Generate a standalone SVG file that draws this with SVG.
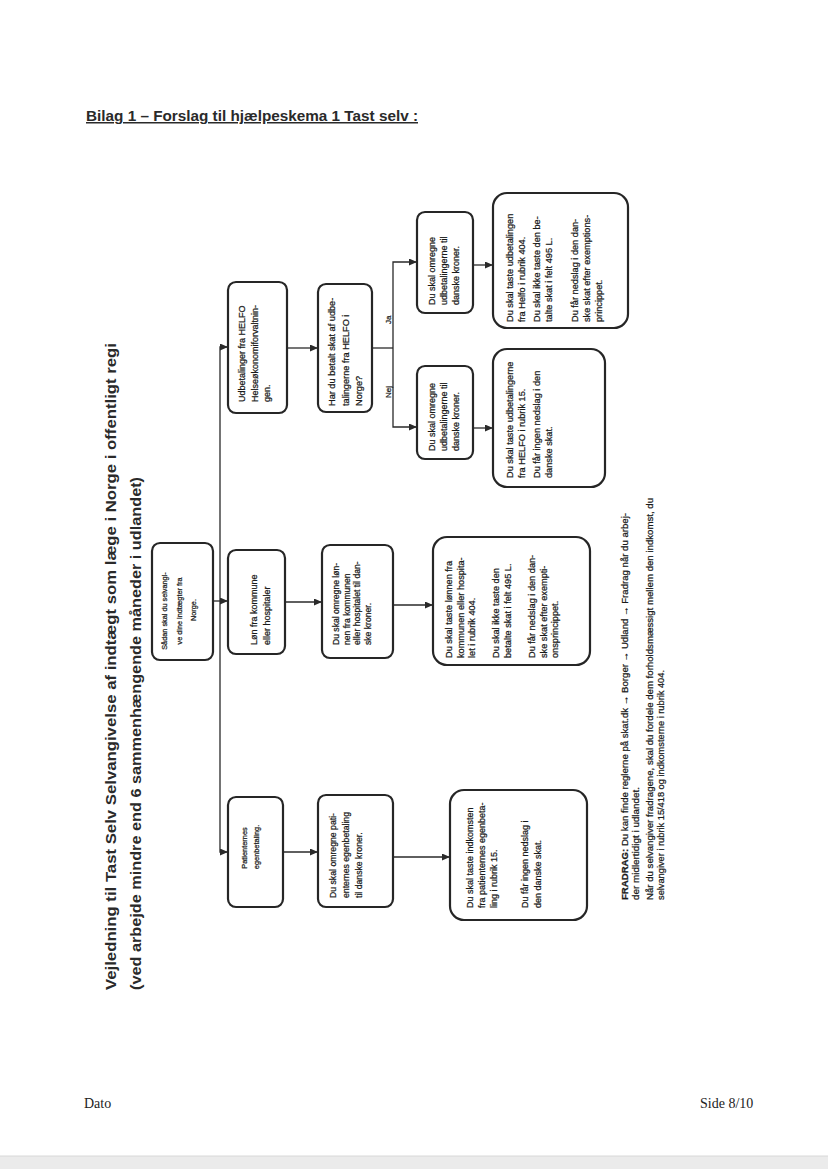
<svg xmlns="http://www.w3.org/2000/svg" width="828" height="1169" viewBox="0 0 828 1169">
<style>
.box{fill:#fff;stroke:#262626;stroke-width:2.2}
.t{font-family:"Liberation Sans",Arial,sans-serif;fill:#1a1a1a;stroke:#1a1a1a;stroke-width:0.25}
.c{fill:none;stroke:#2a2a2a;stroke-width:1.3}
.title{font-family:"Liberation Sans",Arial,sans-serif;font-weight:bold;fill:#2a2a2a}
.serif{font-family:"Liberation Serif","Times New Roman",serif;fill:#222;font-size:14px}
</style>
<defs>
<marker id="ah" viewBox="0 0 8 7" refX="8" refY="3.5" markerWidth="8" markerHeight="7" markerUnits="userSpaceOnUse" orient="auto-start-reverse">
<path d="M0,0 L8,3.5 L0,7 z" fill="#2a2a2a"/>
</marker>
</defs>
<rect x="0" y="0" width="828" height="1169" fill="#fff"/>
<rect x="0" y="1156" width="828" height="13" fill="#ebebeb"/>
<line x1="0" y1="1156" x2="828" y2="1156" stroke="#d8d8d8" stroke-width="1"/>

<text class="title" x="86" y="121" font-size="15" text-decoration="underline" textLength="332" lengthAdjust="spacingAndGlyphs">Bilag 1 – Forslag til hjælpeskema 1 Tast selv :</text>

<text class="title" transform="rotate(-90)" font-size="15.5">
<tspan x="-990" y="116" textLength="647" lengthAdjust="spacingAndGlyphs">Vejledning til Tast Selv Selvangivelse af indtægt som læge i Norge i offentligt regi</tspan>
<tspan x="-990" y="141" textLength="513" lengthAdjust="spacingAndGlyphs">(ved arbejde mindre end 6 sammenhængende måneder i udlandet)</tspan>
</text>

<g id="connectors">
<path class="c" d="M213,601 H228" marker-end="url(#ah)"/>
<path class="c" d="M228,347 H220 V852 H228" marker-start="url(#ah)" marker-end="url(#ah)"/>
<path class="c" d="M287,348 H318" marker-end="url(#ah)"/>
<path class="c" d="M372,348 H393"/>
<path class="c" d="M417,262 H393 V427 H417" marker-start="url(#ah)" marker-end="url(#ah)"/>
<path class="c" d="M473,265 H493" marker-end="url(#ah)"/>
<path class="c" d="M473,428 H493" marker-end="url(#ah)"/>
<path class="c" d="M285,602 H322" marker-end="url(#ah)"/>
<path class="c" d="M393,605 H433" marker-end="url(#ah)"/>
<path class="c" d="M283,852 H318" marker-end="url(#ah)"/>
<path class="c" d="M393,857 H450" marker-end="url(#ah)"/>
<text class="t" transform="rotate(-90)" font-size="8" x="-324" y="391">Ja</text>
<text class="t" transform="rotate(-90)" font-size="8" x="-398" y="391">Nej</text>
</g>

<g id="n_sadan">
<rect class="box" x="152" y="543" width="61" height="117" rx="8"/>
<text class="t" transform="rotate(-90)" font-size="7.3" text-anchor="middle">
<tspan x="-610" y="167">Sådan skal du selvangi-</tspan>
<tspan x="-610" y="181.5">ve dine indtægter fra</tspan>
<tspan x="-610" y="196">Norge.</tspan>
</text>
</g>

<g id="n_helfo">
<rect class="box" x="228" y="282" width="59" height="131" rx="8"/>
<text class="t" transform="rotate(-90)" font-size="9">
<tspan x="-402" y="245">Udbetalinger fra HELFO</tspan>
<tspan x="-402" y="257.5">Helseøkonomiforvaltnin-</tspan>
<tspan x="-402" y="270">gen.</tspan>
</text>
</g>

<g id="n_lon">
<rect class="box" x="228" y="550" width="57" height="104" rx="8"/>
<text class="t" transform="rotate(-90)" font-size="9">
<tspan x="-645" y="257">Løn fra kommune</tspan>
<tspan x="-645" y="270">eller hospitaler</tspan>
</text>
</g>

<g id="n_pat">
<rect class="box" x="228" y="797" width="55" height="110" rx="8"/>
<text class="t" transform="rotate(-90)" font-size="7.4" text-anchor="middle">
<tspan x="-847" y="247">Patienternes</tspan>
<tspan x="-847" y="259">egenbetaling.</tspan>
</text>
</g>

<g id="n_hardu">
<rect class="box" x="318" y="284" width="54" height="128" rx="8"/>
<text class="t" transform="rotate(-90)" font-size="9.2">
<tspan x="-406" y="335">Har du betalt skat af udbe-</tspan>
<tspan x="-406" y="348.5">talingerne fra HELFO i</tspan>
<tspan x="-406" y="362">Norge?</tspan>
</text>
</g>

<g id="n_omlon">
<rect class="box" x="322" y="545" width="71" height="113" rx="8"/>
<text class="t" transform="rotate(-90)" font-size="8.6">
<tspan x="-645" y="339">Du skal omregne løn-</tspan>
<tspan x="-645" y="349.5">nen fra kommunen</tspan>
<tspan x="-645" y="360">eller hospitalet til dan-</tspan>
<tspan x="-645" y="370.5">ske kroner.</tspan>
</text>
</g>

<g id="n_ompat">
<rect class="box" x="318" y="795" width="75" height="112" rx="8"/>
<text class="t" transform="rotate(-90)" font-size="8.7">
<tspan x="-898" y="336">Du skal omregne pati-</tspan>
<tspan x="-898" y="349">enternes egenbetaling</tspan>
<tspan x="-898" y="362">til danske kroner.</tspan>
</text>
</g>

<g id="n_finlon">
<rect class="box" x="433" y="537" width="157" height="128" rx="14"/>
<text class="t" transform="rotate(-90)" font-size="9.2">
<tspan x="-658" y="452">Du skal taste lønnen fra</tspan>
<tspan x="-658" y="463.5">kommunen eller hospita-</tspan>
<tspan x="-658" y="475">let i rubrik 404.</tspan>
<tspan x="-658" y="499">Du skal ikke taste den</tspan>
<tspan x="-658" y="510.5">betalte skat i felt 495 L.</tspan>
<tspan x="-658" y="535">Du får nedslag i den dan-</tspan>
<tspan x="-658" y="546.5">ske skat efter exempti-</tspan>
<tspan x="-658" y="558">onsprincippet.</tspan>
</text>
</g>

<g id="n_finpat">
<rect class="box" x="450" y="790" width="137" height="130" rx="14"/>
<text class="t" transform="rotate(-90)" font-size="9">
<tspan x="-908" y="473">Du skal taste indkomsten</tspan>
<tspan x="-908" y="485">fra patienternes egenbeta-</tspan>
<tspan x="-908" y="496.5">ling i rubrik 15.</tspan>
<tspan x="-908" y="528">Du får ingen nedslag i</tspan>
<tspan x="-908" y="541">den danske skat.</tspan>
</text>
</g>

<g id="n_ja">
<rect class="box" x="417" y="212" width="56" height="101" rx="8"/>
<text class="t" transform="rotate(-90)" font-size="9">
<tspan x="-305" y="435">Du skal omregne</tspan>
<tspan x="-305" y="447">udbetalingerne til</tspan>
<tspan x="-305" y="459">danske kroner.</tspan>
</text>
</g>

<g id="n_nej">
<rect class="box" x="417" y="366" width="56" height="93" rx="8"/>
<text class="t" transform="rotate(-90)" font-size="9">
<tspan x="-451" y="435">Du skal omregne</tspan>
<tspan x="-451" y="447">udbetalingerne til</tspan>
<tspan x="-451" y="459">danske kroner.</tspan>
</text>
</g>

<g id="n_finja">
<rect class="box" x="493" y="193" width="135" height="135" rx="14"/>
<text class="t" transform="rotate(-90)" font-size="9.2">
<tspan x="-322" y="513">Du skal taste udbetalingen</tspan>
<tspan x="-322" y="525">fra Helfo i rubrik 404.</tspan>
<tspan x="-322" y="540">Du skal ikke taste den be-</tspan>
<tspan x="-322" y="552">talte skat i felt 495 L.</tspan>
<tspan x="-322" y="578">Du får nedslag i den dan-</tspan>
<tspan x="-322" y="590">ske skat efter exemptions-</tspan>
<tspan x="-322" y="602">princippet.</tspan>
</text>
</g>

<g id="n_finnej">
<rect class="box" x="493" y="349" width="112" height="138" rx="14"/>
<text class="t" transform="rotate(-90)" font-size="9.2">
<tspan x="-478" y="513">Du skal taste udbetalingerne</tspan>
<tspan x="-478" y="525">fra HELFO i rubrik 15.</tspan>
<tspan x="-478" y="540">Du får ingen nedslag i den</tspan>
<tspan x="-478" y="552">danske skat.</tspan>
</text>
</g>

<g id="footnote">
<text class="t" transform="rotate(-90)" font-size="9">
<tspan x="-900" y="628" textLength="387" lengthAdjust="spacingAndGlyphs"><tspan font-weight="bold">FRADRAG:</tspan> Du kan finde reglerne på skat.dk → Borger → Udland → Fradrag når du arbej-</tspan>
<tspan x="-900" y="639" textLength="113" lengthAdjust="spacingAndGlyphs">der midlertidigt i udlandet.</tspan>
<tspan x="-900" y="653" textLength="402" lengthAdjust="spacingAndGlyphs">Når du selvangiver fradragene, skal du fordele dem forholdsmæssigt mellem den indkomst, du</tspan>
<tspan x="-900" y="664" textLength="230" lengthAdjust="spacingAndGlyphs">selvangiver i rubrik 15/418 og indkomsterne i rubrik 404.</tspan>
</text>
</g>

<text class="serif" x="84" y="1108">Dato</text>
<text class="serif" x="700" y="1108">Side 8/10</text>
</svg>
